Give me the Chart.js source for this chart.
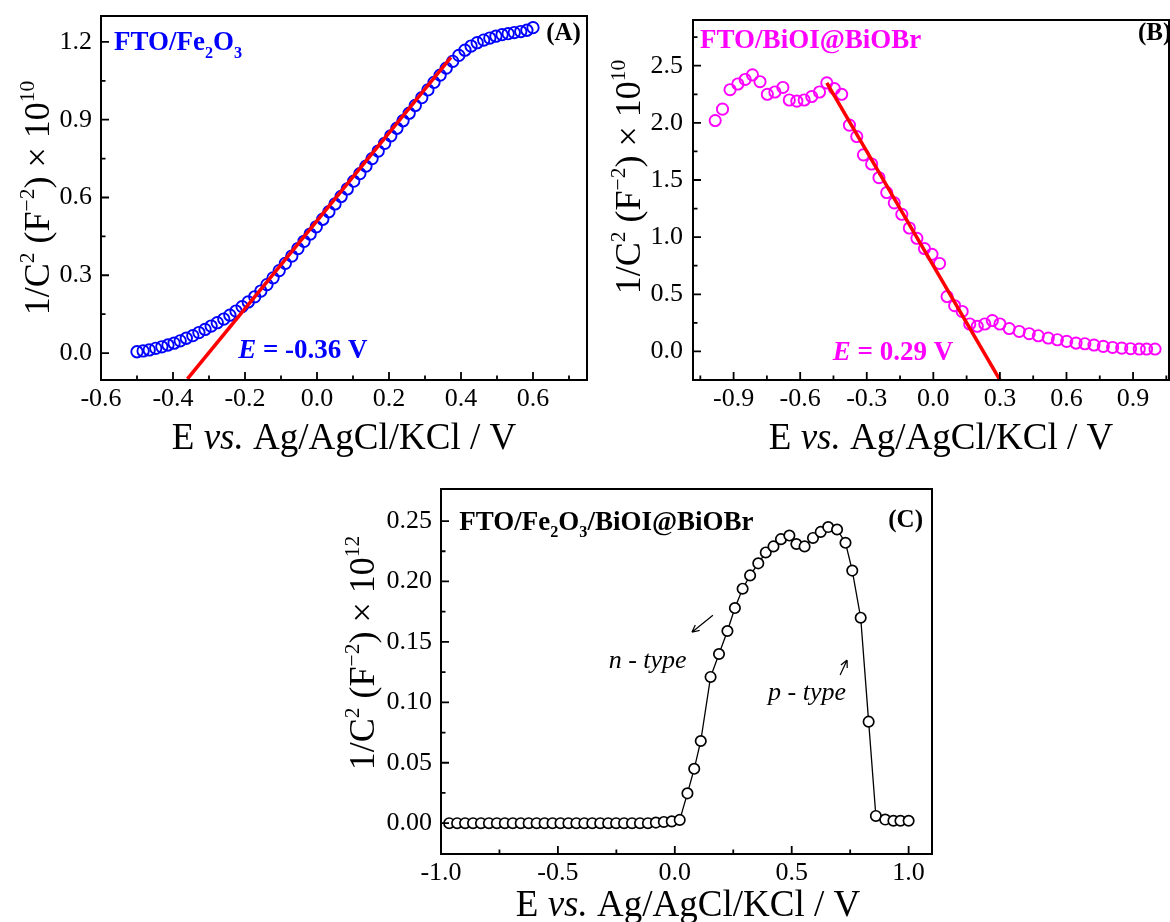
<!DOCTYPE html>
<html>
<head>
<meta charset="utf-8">
<script src="https://cdn.jsdelivr.net/npm/chart.js@4/dist/chart.umd.min.js"></script>
<style>
  body { margin: 0; background: #fff; width: 1170px; height: 922px; overflow: hidden; position: relative; }
  canvas { position: absolute; }
</style>
</head>
<body>
<canvas id="chartA" width="590" height="460" style="left:0;top:0"></canvas>
<canvas id="chartB" width="580" height="460" style="left:590px;top:0"></canvas>
<canvas id="chartC" width="610" height="462" style="left:330px;top:460px"></canvas>
<script>
// ---- panel A : FTO/Fe2O3 ----
const eA = [-0.5, -0.483, -0.466, -0.448, -0.431, -0.414, -0.397, -0.380, -0.363, -0.345,
  -0.328, -0.311, -0.294, -0.277, -0.259, -0.242, -0.225, -0.208, -0.191, -0.173,
  -0.156, -0.139, -0.122, -0.105, -0.088, -0.070, -0.053, -0.036, -0.019, -0.002,
  0.016, 0.033, 0.050, 0.067, 0.084, 0.102, 0.119, 0.136, 0.153, 0.170,
  0.188, 0.205, 0.222, 0.239, 0.256, 0.273, 0.291, 0.308, 0.325, 0.342,
  0.359, 0.377, 0.394, 0.411, 0.428, 0.445, 0.463, 0.480, 0.497, 0.514,
  0.531, 0.548, 0.566, 0.583, 0.600];
const cA = [0.005, 0.008, 0.012, 0.018, 0.024, 0.031, 0.038, 0.047, 0.057, 0.067,
  0.079, 0.091, 0.104, 0.117, 0.131, 0.146, 0.162, 0.179, 0.197, 0.217,
  0.239, 0.264, 0.290, 0.318, 0.346, 0.374, 0.403, 0.431, 0.459, 0.487,
  0.516, 0.545, 0.575, 0.604, 0.633, 0.663, 0.692, 0.721, 0.750, 0.779,
  0.809, 0.838, 0.867, 0.896, 0.925, 0.955, 0.985, 1.015, 1.044, 1.072,
  1.099, 1.125, 1.148, 1.168, 1.184, 1.197, 1.207, 1.215, 1.222, 1.228,
  1.232, 1.236, 1.240, 1.245, 1.255];
const fitAx = [-0.36, 0.372];
const fitAy = [-0.10, 1.14];
const ticksAx = [-0.6, -0.4, -0.2, 0, 0.2, 0.4, 0.6];
const minorAx = [-0.5, -0.3, -0.1, 0.1, 0.3, 0.5, 0.7];
const ticksAy = [0, 0.3, 0.6, 0.9, 1.2];
const minorAy = [0.15, 0.45, 0.75, 1.05];

// ---- panel B : FTO/BiOI@BiOBr ----
const eB = [-0.983, -0.950, -0.916, -0.881, -0.848, -0.815, -0.781, -0.748, -0.714, -0.678,
  -0.649, -0.615, -0.582, -0.548, -0.513, -0.480, -0.446, -0.413, -0.378, -0.345,
  -0.315, -0.278, -0.245, -0.210, -0.176, -0.142, -0.108, -0.074, -0.040, -0.006,
  0.028, 0.062, 0.096, 0.130, 0.164, 0.198, 0.232, 0.266, 0.300, 0.342,
  0.387, 0.432, 0.473, 0.518, 0.559, 0.601, 0.643, 0.683, 0.724, 0.766,
  0.808, 0.849, 0.889, 0.928, 0.961, 0.999];
const cB = [2.02, 2.12, 2.29, 2.34, 2.38, 2.42, 2.36, 2.25, 2.27, 2.31,
  2.20, 2.19, 2.20, 2.23, 2.27, 2.35, 2.30, 2.25, 1.98, 1.88,
  1.72, 1.64, 1.52, 1.39, 1.30, 1.20, 1.08, 0.99, 0.90, 0.85,
  0.77, 0.48, 0.40, 0.35, 0.24, 0.22, 0.24, 0.27, 0.24, 0.20,
  0.175, 0.155, 0.137, 0.117, 0.102, 0.088, 0.073, 0.067, 0.056, 0.044,
  0.035, 0.029, 0.024, 0.021, 0.021, 0.021];
const fitBx = [-0.48, 0.30];
const fitBy = [2.35, -0.25];
const ticksBx = [-0.9, -0.6, -0.3, 0, 0.3, 0.6, 0.9];
const minorBx = [-1.05, -0.75, -0.45, -0.15, 0.15, 0.45, 0.75, 1.05];
const ticksBy = [0, 0.5, 1.0, 1.5, 2.0, 2.5];
const minorBy = [0.25, 0.75, 1.25, 1.75, 2.25, 2.75];

// ---- panel C : FTO/Fe2O3/BiOI@BiOBr ----
const eC = [-0.965, -0.931, -0.897, -0.863, -0.829, -0.795, -0.761, -0.727, -0.693, -0.659,
  -0.625, -0.591, -0.557, -0.523, -0.489, -0.455, -0.421, -0.387, -0.353, -0.319,
  -0.285, -0.251, -0.217, -0.183, -0.149, -0.115, -0.081, -0.047, -0.013, 0.021,
  0.054, 0.083, 0.111, 0.153, 0.189, 0.225, 0.257, 0.290, 0.322, 0.357,
  0.389, 0.422, 0.454, 0.490, 0.520, 0.555, 0.591, 0.624, 0.656, 0.694,
  0.730, 0.759, 0.795, 0.829, 0.860, 0.900, 0.935, 0.965, 1.000];
const cC = [0, 0, 0, 0, 0, 0, 0, 0, 0, 0,
  0, 0, 0, 0, 0, 0, 0, 0, 0, 0,
  0, 0, 0, 0, 0, 0, 0.0005, 0.001, 0.0015, 0.0027,
  0.0247, 0.045, 0.068, 0.121, 0.140, 0.159, 0.178, 0.194, 0.205, 0.215,
  0.224, 0.229, 0.235, 0.238, 0.231, 0.229, 0.236, 0.241, 0.245, 0.243,
  0.232, 0.209, 0.170, 0.084, 0.006, 0.003, 0.002, 0.002, 0.002];
const ticksCx = [-1.0, -0.5, 0, 0.5, 1.0];
const minorCx = [-0.75, -0.25, 0.25, 0.75];
const ticksCy = [0, 0.05, 0.10, 0.15, 0.20, 0.25];
const minorCy = [0.025, 0.075, 0.125, 0.175, 0.225];

const FONT = '"Liberation Serif", "Times New Roman", serif';
const BLUE = '#0000ff', MAGENTA = '#ff00ff', RED = '#ff0000';

function pts(xs, ys) { return xs.map((x, i) => ({ x: x, y: ys[i] })); }

function fontOf(r, size) {
  return (r.i ? 'italic ' : '') + (r.b ? 'bold ' : '') + size + 'px ' + FONT;
}

// text with sub/superscript runs
function drawRich(ctx, runs, x, y, size, color, align) {
  ctx.fillStyle = color;
  ctx.textBaseline = 'alphabetic';
  ctx.textAlign = 'left';
  const parts = runs.map(r => {
    const s = r.s ? size * 0.6 : size;
    ctx.font = fontOf(r, s);
    return { r: r, s: s, w: ctx.measureText(r.t).width };
  });
  const total = parts.reduce((a, p) => a + p.w, 0);
  let cx = align === 'center' ? x - total / 2 : align === 'right' ? x - total : x;
  parts.forEach(p => {
    ctx.font = fontOf(p.r, p.s);
    const dy = p.r.s === 'sup' ? -size * 0.42 : p.r.s === 'sub' ? size * 0.28 : 0;
    ctx.fillText(p.r.t, cx, y + dy);
    cx += p.w;
  });
}

function arrow(ctx, x1, y1, x2, y2) {
  const ang = Math.atan2(y2 - y1, x2 - x1), L = 8;
  ctx.beginPath();
  ctx.moveTo(x1, y1); ctx.lineTo(x2, y2);
  [-0.45, 0.45].forEach(d => {
    ctx.moveTo(x2, y2);
    ctx.lineTo(x2 - L * Math.cos(ang + d), y2 - L * Math.sin(ang + d));
  });
  ctx.stroke();
}

function yTitleRuns(exp) {
  return [{ t: '1/C' }, { t: '2', s: 'sup' }, { t: ' (F' }, { t: '\u22122', s: 'sup' },
          { t: ') \u00d7 10' }, { t: exp, s: 'sup' }];
}
const xTitleRuns = [{ t: 'E ' }, { t: 'vs.', i: true }, { t: ' Ag/AgCl/KCl / V' }];

function makeDecor(spec) {
  return {
    id: 'decor',
    afterDatasetsDraw(chart) {
      const ctx = chart.ctx, a = chart.chartArea;
      const sx = chart.scales.x, sy = chart.scales.y;
      ctx.save();
      // frame
      ctx.strokeStyle = '#000';
      ctx.lineWidth = 2;
      ctx.strokeRect(a.left, a.top, a.right - a.left, a.bottom - a.top);
      // inward ticks
      ctx.lineWidth = 1.8;
      ctx.beginPath();
      const xt = (v, len) => { const p = sx.getPixelForValue(v); ctx.moveTo(p, a.bottom); ctx.lineTo(p, a.bottom - len); };
      const yt = (v, len) => { const p = sy.getPixelForValue(v); ctx.moveTo(a.left, p); ctx.lineTo(a.left + len, p); };
      spec.x.major.forEach(v => xt(v, 8));
      spec.x.minor.forEach(v => xt(v, 4.5));
      spec.y.major.forEach(v => yt(v, 8));
      spec.y.minor.forEach(v => yt(v, 4.5));
      ctx.stroke();
      // labels inside the plot
      spec.texts.forEach(t => drawRich(ctx, t.runs, sx.getPixelForValue(t.x), sy.getPixelForValue(t.y),
                                       t.size, t.color, t.align || 'left'));
      ctx.strokeStyle = '#000';
      ctx.lineWidth = 1.2;
      (spec.arrows || []).forEach(r => arrow(ctx, sx.getPixelForValue(r[0]), sy.getPixelForValue(r[1]),
                                             sx.getPixelForValue(r[2]), sy.getPixelForValue(r[3])));
      // axis titles
      drawRich(ctx, xTitleRuns, spec.xTitle.x, spec.xTitle.y, 37, '#000', 'center');
      ctx.translate(spec.yTitle.x, spec.yTitle.y);
      ctx.rotate(-Math.PI / 2);
      drawRich(ctx, yTitleRuns(spec.yTitle.exp), 0, 0, 36, '#000', 'center');
      ctx.restore();
    }
  };
}

function axis(o, fit) {
  return {
    type: 'linear', min: o.min, max: o.max,
    grid: { display: false, drawTicks: false },
    border: { display: false },
    afterBuildTicks: s => { s.ticks = o.major.map(v => ({ value: v })); },
    afterFit: s => {
      fit(s);
      s.paddingTop = 0; s.paddingBottom = 0; s.paddingLeft = 0; s.paddingRight = 0;
    },
    ticks: {
      autoSkip: false, maxRotation: 0, padding: o.pad, color: '#000',
      font: { family: FONT, size: 26 },
      callback: v => Number(v).toFixed(o.dec)
    }
  };
}

function makeChart(id, spec) {
  const cv = document.getElementById(id);
  const W = cv.width, H = cv.height, ar = spec.area;
  return new Chart(cv, {
    type: 'scatter',
    data: { datasets: spec.datasets },
    options: {
      responsive: false,
      animation: false,
      layout: { autoPadding: false, padding: { left: 0, top: ar.t, right: W - ar.r, bottom: 0 } },
      plugins: { legend: { display: false }, tooltip: { enabled: false } },
      scales: {
        x: axis(spec.x, s => { s.height = H - ar.b; }),
        y: axis(spec.y, s => { s.width = ar.l; })
      }
    },
    plugins: [makeDecor(spec)]
  });
}

makeChart('chartA', {
  area: { l: 101, t: 16, r: 587, b: 380 },
  x: { min: -0.6, max: 0.75, major: ticksAx, minor: minorAx, dec: 1, pad: 4 },
  y: { min: -0.104, max: 1.30, major: ticksAy, minor: minorAy, dec: 1, pad: 9 },
  datasets: [
    { data: pts(fitAx, fitAy), showLine: true, borderColor: RED, borderWidth: 3.5, pointRadius: 0, order: 0 },
    { data: pts(eA, cA), pointRadius: 5.7, pointBorderWidth: 1.9, pointBorderColor: BLUE,
      pointBackgroundColor: 'rgba(0,0,0,0)', order: 1 }
  ],
  texts: [
    { x: -0.564, y: 1.167, size: 27, color: BLUE,
      runs: [{ t: 'FTO/Fe', b: 1 }, { t: '2', s: 'sub', b: 1 }, { t: 'O', b: 1 }, { t: '3', s: 'sub', b: 1 }] },
    { x: 0.733, y: 1.206, size: 25, color: '#000', align: 'right', runs: [{ t: '(A)', b: 1 }] },
    { x: -0.219, y: -0.018, size: 27, color: BLUE, runs: [{ t: 'E', b: 1, i: 1 }, { t: ' = -0.36 V', b: 1 }] }
  ],
  xTitle: { x: 344, y: 449 },
  yTitle: { x: 49, y: 198, exp: '10' }
});

makeChart('chartB', {
  area: { l: 103, t: 20, r: 579, b: 380 },
  x: { min: -1.083, max: 1.062, major: ticksBx, minor: minorBx, dec: 1, pad: 4 },
  y: { min: -0.25, max: 2.90, major: ticksBy, minor: minorBy, dec: 1, pad: 10 },
  datasets: [
    { data: pts(fitBx, fitBy), showLine: true, borderColor: RED, borderWidth: 3.5, pointRadius: 0, order: 0 },
    { data: pts(eB, cB), pointRadius: 5.6, pointBorderWidth: 1.9, pointBorderColor: MAGENTA,
      pointBackgroundColor: 'rgba(0,0,0,0)', order: 1 }
  ],
  texts: [
    { x: -1.051, y: 2.657, size: 27, color: MAGENTA, runs: [{ t: 'FTO/BiOI@BiOBr', b: 1 }] },
    { x: 0.922, y: 2.727, size: 25, color: '#000', runs: [{ t: '(B)', b: 1 }] },
    { x: -0.453, y: -0.073, size: 27, color: MAGENTA, runs: [{ t: 'E', b: 1, i: 1 }, { t: ' = 0.29 V', b: 1 }] }
  ],
  xTitle: { x: 351, y: 449 },
  yTitle: { x: 50, y: 177, exp: '10' }
});

makeChart('chartC', {
  area: { l: 111, t: 29, r: 602, b: 394 },
  x: { min: -1.0, max: 1.1, major: ticksCx, minor: minorCx, dec: 1, pad: 4 },
  y: { min: -0.0255, max: 0.2765, major: ticksCy, minor: minorCy, dec: 2, pad: 9 },
  datasets: [
    { data: pts(eC, cC), showLine: true, borderColor: '#000', borderWidth: 1.3, pointRadius: 5.2,
      pointBorderWidth: 1.7, pointBorderColor: '#000', pointBackgroundColor: '#fff' }
  ],
  texts: [
    { x: -0.922, y: 0.2428, size: 27, color: '#000',
      runs: [{ t: 'FTO/Fe', b: 1 }, { t: '2', s: 'sub', b: 1 }, { t: 'O', b: 1 }, { t: '3', s: 'sub', b: 1 },
             { t: '/BiOI@BiOBr', b: 1 }] },
    { x: 0.913, y: 0.2453, size: 25, color: '#000', runs: [{ t: '(C)', b: 1 }] },
    { x: -0.283, y: 0.1286, size: 26, color: '#000', runs: [{ t: 'n - type', i: 1 }] },
    { x: 0.399, y: 0.102, size: 26, color: '#000', runs: [{ t: 'p - type', i: 1 }] }
  ],
  arrows: [[0.163, 0.172, 0.073, 0.158], [0.707, 0.1227, 0.737, 0.135]],
  xTitle: { x: 358, y: 456 },
  yTitle: { x: 44, y: 193, exp: '12' }
});
</script>
</body>
</html>
